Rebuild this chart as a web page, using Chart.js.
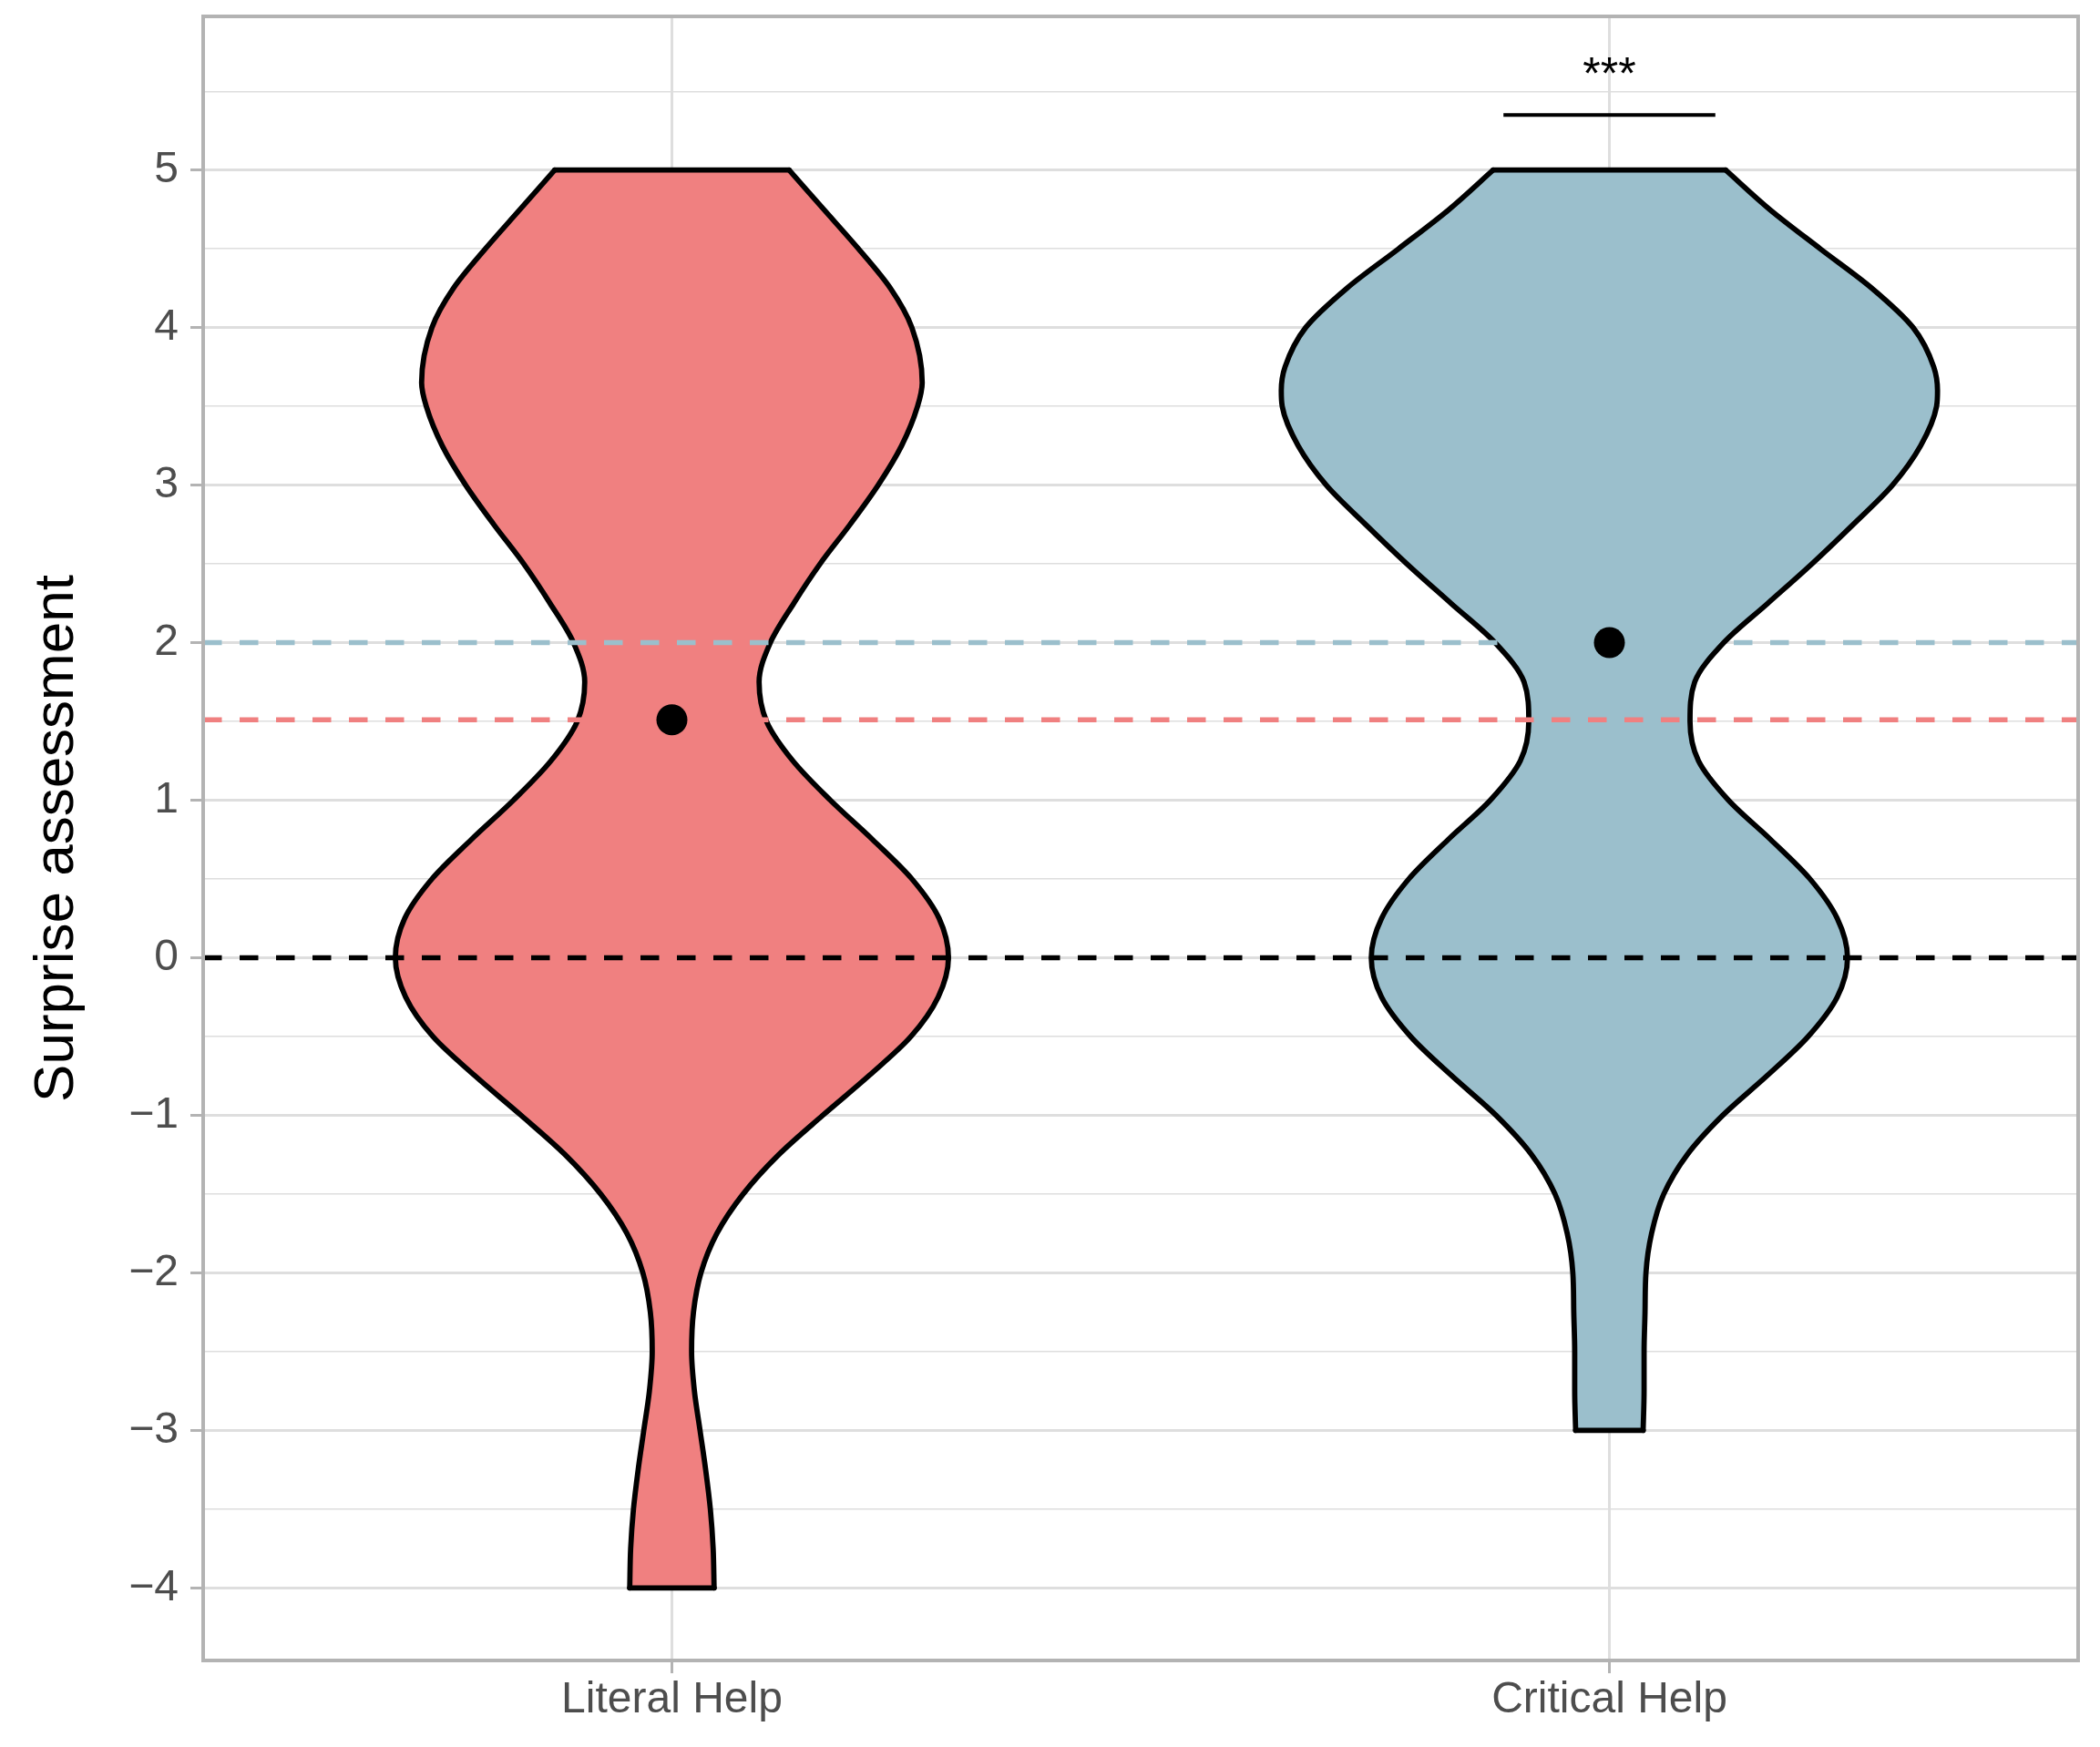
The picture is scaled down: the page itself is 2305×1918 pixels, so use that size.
<!DOCTYPE html>
<html>
<head>
<meta charset="utf-8">
<script src="https://cdn.jsdelivr.net/npm/chart.js@4.4.1/dist/chart.umd.min.js"></script>
<style>
html, body { margin: 0; padding: 0; background: #ffffff; }
canvas { display: block; }
</style>
</head>
<body>
<canvas id="chart" width="2305" height="1918"></canvas>
<script>
// ---------------- data ----------------
const categories = ['Literal Help', 'Critical Help'];

// violin outline: value (y) and half-width of the density at that value (x units)
const literalY = [-4, -3.75, -3.5, -3.25, -3, -2.75, -2.5, -2.25, -2, -1.75, -1.5, -1.25, -1, -0.75, -0.5, -0.25,
                  0, 0.25, 0.5, 0.75, 1, 1.25, 1.5, 1.75, 2, 2.25, 2.5, 2.75, 3, 3.25, 3.5, 3.65, 4, 4.25, 4.5, 4.75, 5];
const literalHalfWidth = [0.045, 0.044, 0.041, 0.036, 0.030, 0.024, 0.021, 0.023, 0.031, 0.048, 0.076, 0.114, 0.161, 0.210, 0.255, 0.284,
                  0.295, 0.285, 0.256, 0.214, 0.169, 0.129, 0.101, 0.093, 0.105, 0.130, 0.158, 0.190, 0.220, 0.245, 0.262, 0.267, 0.256, 0.233, 0.199, 0.162, 0.125];

const criticalY = [-3, -2.75, -2.5, -2.25, -2, -1.75, -1.5, -1.25, -1, -0.75, -0.5, -0.25,
                   0, 0.25, 0.5, 0.75, 1, 1.25, 1.5, 1.75, 2, 2.25, 2.5, 2.75, 3, 3.25, 3.5, 3.6, 3.75, 4, 4.25, 4.5, 4.75, 5];
const criticalHalfWidth = [0.036, 0.037, 0.037, 0.038, 0.039, 0.045, 0.058, 0.083, 0.121, 0.168, 0.212, 0.243,
                   0.254, 0.243, 0.214, 0.172, 0.127, 0.095, 0.086, 0.091, 0.122, 0.169, 0.216, 0.260, 0.302, 0.332, 0.349, 0.350, 0.346, 0.324, 0.280, 0.225, 0.171, 0.124];

const groupMeans = [1.51, 2.00];
const referenceValue = [0];

const yMajorTicks = [-4, -3, -2, -1, 0, 1, 2, 3, 4, 5];
const yMinorTicks = [-3.5, -2.5, -1.5, -0.5, 0.5, 1.5, 2.5, 3.5, 4.5, 5.5];

const signifBracketX = [1.887, 2.113];
const signifBracketY = [5.35];
const signifLabel = ['***'];
const signifLabelY = [5.51];

// ---------------- styles ----------------
const FONT = "'Liberation Sans', Arial, Helvetica, sans-serif";
const groupColors = ['#F08080', '#9BBFCC'];
const OUTLINE = 5.8;

Chart.defaults.font.family = FONT;

const isMajor = v => Math.abs(v - Math.round(v)) < 1e-9;
const fmt = v => (v < 0 ? '\u2212' + Math.abs(v) : String(v));

const datasets = [];
const profiles = [
  { center: 1, ys: literalY, hw: literalHalfWidth, color: groupColors[0] },
  { center: 2, ys: criticalY, hw: criticalHalfWidth, color: groupColors[1] }
];
const edgeStyle = {
  borderColor: '#000000', borderWidth: OUTLINE, pointRadius: 0, pointHoverRadius: 0,
  borderCapStyle: 'round', borderJoinStyle: 'round'
};
profiles.forEach(p => {
  const right = p.ys.map((y, i) => ({ x: p.center + p.hw[i], y }));
  const left = p.ys.map((y, i) => ({ x: p.center - p.hw[i], y }));
  const n = p.ys.length - 1;
  datasets.push(Object.assign({ data: right, cubicInterpolationMode: 'monotone', fill: false, order: 3 }, edgeStyle));
  datasets.push(Object.assign({ data: left, cubicInterpolationMode: 'monotone', fill: '-1', backgroundColor: p.color, order: 3 }, edgeStyle));
  datasets.push(Object.assign({ data: [left[n], right[n]], tension: 0, fill: false, order: 2 }, edgeStyle));
  datasets.push(Object.assign({ data: [left[0], right[0]], tension: 0, fill: false, order: 2 }, edgeStyle));
});

// dashed mean / reference lines
const hlineValues = [groupMeans[1], groupMeans[0], referenceValue[0]];
const hlineColors = [groupColors[1], groupColors[0], '#000000'];
hlineValues.forEach((v, i) => {
  datasets.push({
    data: [{ x: 0.5, y: v }, { x: 2.5, y: v }],
    borderColor: hlineColors[i], borderWidth: 5.5, borderDash: [20.5, 19.5],
    borderCapStyle: 'butt', pointRadius: 0, pointHoverRadius: 0, fill: false, order: 1
  });
});

// significance bracket
datasets.push({
  data: signifBracketX.map(x => ({ x, y: signifBracketY[0] })),
  borderColor: '#000000', borderWidth: 4, pointRadius: 0, fill: false, order: 0
});

// group means
datasets.push({
  data: groupMeans.map((m, i) => ({ x: i + 1, y: m })),
  showLine: false, pointRadius: 17, pointHoverRadius: 17,
  pointBackgroundColor: '#000000', pointBorderWidth: 0, order: 0
});

const decorPlugin = {
  id: 'decor',
  beforeDraw(chart) {
    const c = chart.ctx;
    c.save();
    c.fillStyle = '#ffffff';
    c.fillRect(0, 0, chart.width, chart.height);
    c.restore();
  },
  afterDatasetsDraw(chart) {
    const c = chart.ctx;
    const xs = chart.scales.x, ys = chart.scales.y;
    const cx = (signifBracketX[0] + signifBracketX[1]) / 2;
    c.save();
    c.fillStyle = '#000000';
    c.font = '50px ' + FONT;
    c.textAlign = 'center';
    c.textBaseline = 'alphabetic';
    c.fillText(signifLabel[0], xs.getPixelForValue(cx), ys.getPixelForValue(signifLabelY[0]));
    c.restore();
  },
  afterDraw(chart) {
    const a = chart.chartArea;
    const c = chart.ctx;
    c.save();
    c.strokeStyle = '#B3B3B3';
    c.lineWidth = 4;
    c.strokeRect(a.left, a.top, a.right - a.left, a.bottom - a.top);
    c.restore();
  }
};

new Chart(document.getElementById('chart'), {
  type: 'line',
  data: { datasets },
  plugins: [decorPlugin],
  options: {
    indexAxis: 'y',
    responsive: false,
    devicePixelRatio: 1,
    animation: false,
    events: [],
    layout: { padding: { top: 18, right: 24, bottom: 0, left: 0 } },
    plugins: { legend: { display: false }, tooltip: { enabled: false } },
    scales: {
      x: {
        type: 'linear', position: 'bottom', min: 0.5, max: 2.5,
        afterBuildTicks: s => { s.ticks = categories.map((_, i) => ({ value: i + 1 })); },
        afterFit: s => { s.height = 95; s.paddingLeft = 0; s.paddingRight = 0; },
        ticks: {
          callback: v => categories[Math.round(v) - 1] || '',
          font: { size: 48 }, color: '#4D4D4D', padding: 1,
          autoSkip: false, maxRotation: 0, minRotation: 0
        },
        grid: { color: '#DEDEDE', lineWidth: 3, tickColor: '#B3B3B3', tickLength: 14, tickWidth: 3 },
        border: { display: false }
      },
      y: {
        type: 'linear', position: 'left', min: -4.4608, max: 5.9754,
        afterBuildTicks: s => {
          s.ticks = yMajorTicks.concat(yMinorTicks).sort((a, b) => a - b).map(v => ({ value: v }));
        },
        afterFit: s => { s.width = 223; s.paddingTop = 0; s.paddingBottom = 0; },
        ticks: {
          callback: v => (isMajor(v) ? fmt(v) : ''),
          font: { size: 48 }, color: '#4D4D4D', padding: 13, autoSkip: false
        },
        grid: {
          color: '#DEDEDE',
          lineWidth: c => (c.tick && !isMajor(c.tick.value) ? 1.4 : 3),
          tickColor: c => (c.tick && !isMajor(c.tick.value) ? 'rgba(0,0,0,0)' : '#B3B3B3'),
          tickLength: 14, tickWidth: 3
        },
        border: { display: false },
        title: {
          display: true, text: 'Surprise assessment', color: '#000000',
          font: { size: 62 }, padding: { top: 26, bottom: 0 }
        }
      }
    }
  }
});
</script>
</body>
</html>
